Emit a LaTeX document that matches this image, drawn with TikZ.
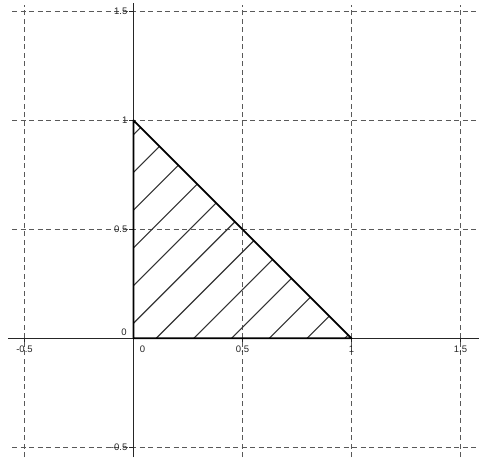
\documentclass[tikz,border=0pt]{standalone}
\usepackage{fontspec}
\setmainfont{Liberation Sans}
\usetikzlibrary{calc}

\begin{document}
\begin{tikzpicture}[
        x=218pt, y=218pt,
        gridline/.style={dash pattern=on 5pt off 3.5pt, draw=black!65, line width=1.1pt},
        axisline/.style={draw=black!85, line width=1.3pt},
        tickmark/.style={draw=black!85, line width=1pt},
        edge/.style={draw=black, line width=1.8pt, line join=round},
        hatch/.style={draw=black!80, line width=1.1pt},
        ticklabel/.style={font=\fontsize{9.5}{11}\selectfont, text=black!85, inner sep=0pt}
    ]

    \useasboundingbox (-0.6124,-0.5445) rectangle (1.585,1.552);

    % --- Grid ---
    \foreach \v in {-0.5,0,0.5,1,1.5} {
        \draw[gridline] (\v,-0.5445) -- (\v,1.529);
        \draw[gridline] (-0.557,\v) -- (1.585,\v);
    }

    % --- Axes ---
    \coordinate (xstart) at (-0.576,0);
    \coordinate (xend) at (1.585,0);
    \coordinate (ystart) at (0,-0.5445);
    \coordinate (yend) at (0,1.538);
    \draw[axisline] (xstart) -- (xend);
    \draw[axisline] (ystart) -- (yend);

    \foreach \v in {-0.5,0.5,1,1.5} {
        \draw[tickmark] (\v,0) -- ++(0,-4pt);
        \draw[tickmark] (0,\v) -- ++(-4pt,0);
    }

    % --- Tick labels ---
    \foreach \v/\t/\n in {-0.5/-0.5/a, 0.5/0.5/b, 1/1/c, 1.5/1.5/d} {
        \node[ticklabel, anchor=north] (xlab\n) at ($(\v,0)+(0,-7pt)$) {\t};
        \node[ticklabel, anchor=east] (ylab\n) at ($(0,\v)+(-6pt,0)$) {\t};
    }
    \node[ticklabel] (xlabzero) at ($(0,0)+(9pt,-11pt)$) {0};
    \node[ticklabel] (ylabzero) at ($(0,0)+(-9.5pt,6.3pt)$) {0};

    % --- Hatching ---
    \foreach \k in {-6,...,5} {
        \pgfmathsetmacro\b{0.069+0.173*\k}
        \pgfmathsetmacro\xa{max(0,-\b)}
        \pgfmathsetmacro\ya{max(0,\b)}
        \draw[hatch] (\xa,\ya) -- ({(1-\b)/2},{(1+\b)/2});
    }

    % --- Triangle ---
    \coordinate (A) at (0,0);
    \coordinate (B) at (1,0);
    \coordinate (C) at (0,1);
    \draw[edge] (A) -- (B) -- (C) -- cycle;

\end{tikzpicture}
\end{document}
